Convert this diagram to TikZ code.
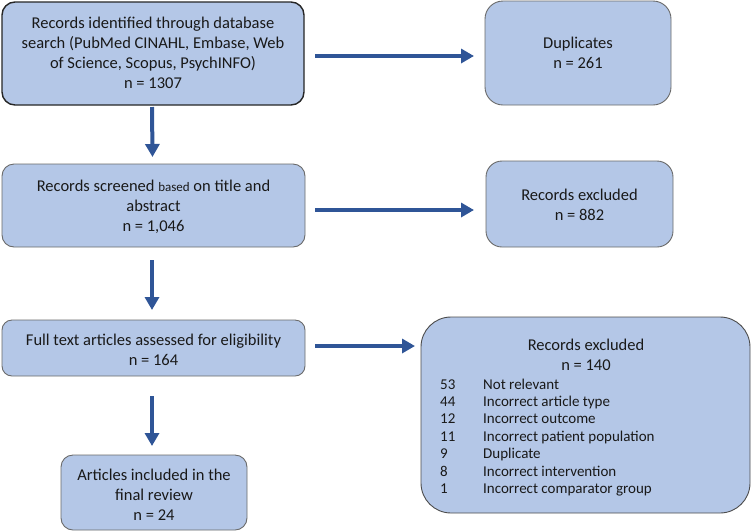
\documentclass[tikz,border=0pt]{standalone}
\usepackage{fontspec}
\setmainfont{Carlito}
\usetikzlibrary{arrows.meta}
\definecolor{boxfill}{HTML}{B4C7E7}
\definecolor{arrowblue}{HTML}{2F5597}
\definecolor{boxline}{HTML}{6A6A6A}
\begin{document}
\begin{tikzpicture}[x=1pt,y=-1pt,
  box/.style={draw=boxline,line width=0.9pt,fill=boxfill,rounded corners=#1,inner sep=0pt,outer sep=0pt},
  box/.default=12pt,
  txt/.style={align=center,font=\fontsize{16.5}{20}\selectfont,text=black!90},
  listtxt/.style={anchor=base west,font=\fontsize{15}{17}\selectfont,text=black!90,inner sep=0pt},
  arr/.style={draw=arrowblue,line width=4pt,-{Triangle[width=14pt,length=13pt]}}]
\useasboundingbox (0,0) rectangle (751,531);
% boxes
\node[box=13pt,draw=black!85,line width=1.4pt,minimum width=302pt,minimum height=103pt] (b1) at (153,53.5) {};
\node[txt] (t1) at (153,52.5) {Records identified through database\\search (PubMed CINAHL, Embase, Web\\of Science, Scopus, PsychINFO)\\n = 1307};
\node[box=18pt,minimum width=186pt,minimum height=104pt] (dup) at (578,53) {};
\node[txt] (tdup) at (578,53) {Duplicates\\n = 261};
\node[box=12pt,minimum width=303pt,minimum height=83pt] (b2) at (153.5,205.5) {};
\node[txt] (t2) at (153.5,207) {Records screened {\fontsize{13}{20}\selectfont based} on title and\\abstract\\n = 1,046};
\node[box=16pt,minimum width=187pt,minimum height=86pt] (ex1) at (579.5,204) {};
\node[txt] (tex1) at (579.5,204.5) {Records excluded\\n = 882};
\node[box=10pt,minimum width=303pt,minimum height=56pt] (b3) at (153.5,348) {};
\node[txt] (t3) at (153.5,350) {Full text articles assessed for eligibility\\n = 164};
\node[box=30pt,draw=black!70,minimum width=329pt,minimum height=196pt] (ex2) at (585.5,415) {};
\node[txt] (tex2) at (586,355) {Records excluded\\n = 140};
\node[box=12pt,minimum width=186pt,minimum height=75pt] (b5) at (154,492.5) {};
\node[txt] (t5) at (154,495) {Articles included in the\\final review\\n = 24};
% exclusion list
\foreach \n/\lab [count=\i] in {53/Not relevant,44/Incorrect article type,12/Incorrect outcome,11/Incorrect patient population,9/Duplicate,8/Incorrect intervention,1/Incorrect comparator group}{
  \node[listtxt] (num\i) at (440,{389+17.45*(\i-1)}) {\n};
  \node[listtxt] (lab\i) at (483,{389+17.45*(\i-1)}) {\lab};
}
% arrows
\draw[arr] ([xshift=-1pt,yshift=-2pt]b1.south) -- ([xshift=-1pt,yshift=7pt]b2.north);
\draw[arr] ([xshift=-1.5pt,yshift=-13pt]b2.south) -- ([xshift=-1.5pt,yshift=10pt]b3.north);
\draw[arr] ([xshift=-1.5pt,yshift=-20pt]b3.south) -- ([xshift=-2pt,yshift=9pt]b5.north);
\draw[arr] ([xshift=11pt,yshift=-2.5pt]b1.east) -- ([xshift=-11pt,yshift=-3pt]dup.west);
\draw[arr] ([xshift=10pt,yshift=-4.5pt]b2.east) -- ([xshift=-12pt,yshift=-6pt]ex1.west);
\draw[arr] ([xshift=10pt,yshift=2pt]b3.east) -- ([xshift=-6pt,yshift=69pt]ex2.west);
\end{tikzpicture}
\end{document}
